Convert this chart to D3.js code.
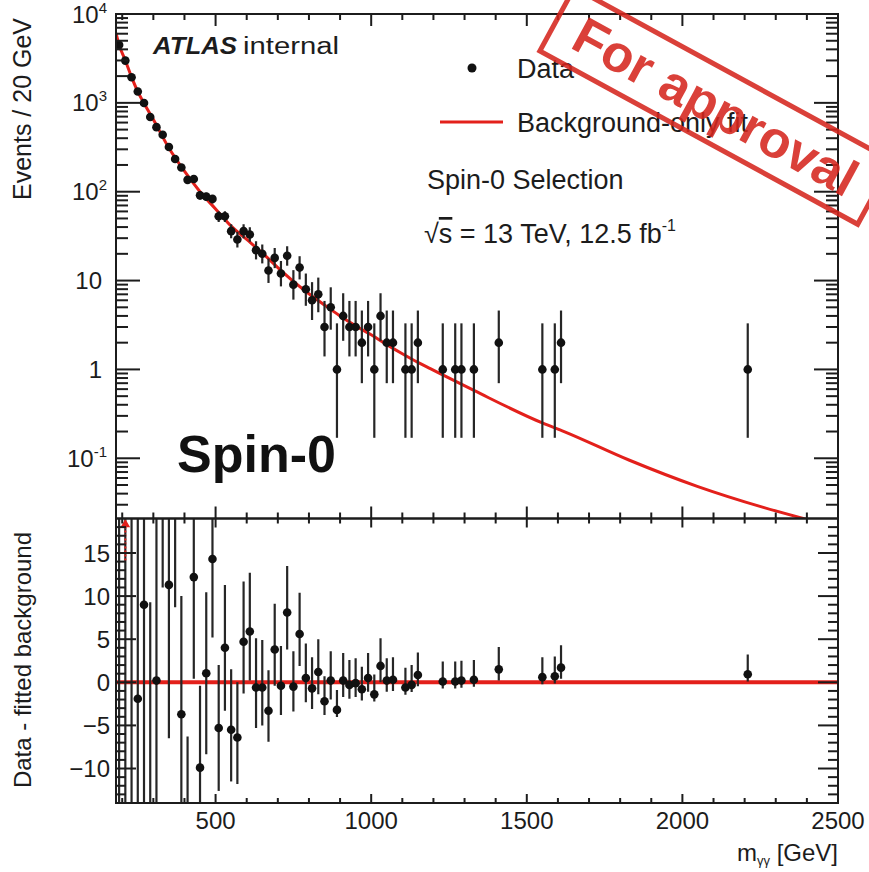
<!DOCTYPE html>
<html>
<head>
<meta charset="utf-8">
<script src="https://cdnjs.cloudflare.com/ajax/libs/d3/7.8.5/d3.min.js"></script>
<style>
  body { margin: 0; background: #fff; }
  svg { display: block; font-family: "Liberation Sans", Arial, Helvetica, sans-serif; }
</style>
</head>
<body>
<div id="chart"></div>
<script>
// bin centres (GeV) of the non-empty 20 GeV bins
var massBins = [190, 210, 230, 250, 270, 290, 310, 330, 350, 370, 390, 410, 430, 450, 470, 490,
  510, 530, 550, 570, 590, 610, 630, 650, 670, 690, 710, 730, 750, 770, 790, 810, 830, 850, 870,
  890, 910, 930, 950, 970, 990, 1010, 1030, 1050, 1070, 1110, 1130, 1150, 1230, 1270, 1290, 1330,
  1410, 1550, 1590, 1610, 2210];
var eventCounts = [4490, 2990, 1945, 1340, 995, 692, 533, 437, 318, 233, 187, 136, 139, 91, 88, 83,
  53, 53, 36, 29, 36, 33, 22, 20, 13, 18, 12, 19, 9, 14, 8, 6, 7, 3, 5,
  1, 4, 3, 3, 2, 3, 1, 4, 2, 2, 1, 1, 2, 1, 1, 1, 1,
  2, 1, 1, 2, 1];
var errLow = [67, 55, 44, 37, 31.5, 26.3, 23, 21, 17.8, 15.3, 13.7, 11.7, 11.8, 9.5, 9.4, 9.1,
  7.3, 7.3, 6.0, 5.4, 6.0, 5.7, 4.7, 4.4, 3.6, 4.2, 3.4, 4.3, 2.9, 3.7, 2.8, 2.4, 2.6, 1.6, 2.2,
  0.83, 1.9, 1.6, 1.6, 1.3, 1.6, 0.83, 1.9, 1.3, 1.3, 0.83, 0.83, 1.3, 0.83, 0.83, 0.83, 0.83,
  1.3, 0.83, 0.83, 1.3, 0.83];
var errHigh = [67, 55, 44, 37, 31.5, 26.3, 23, 21, 17.8, 15.3, 13.7, 11.7, 11.8, 9.5, 9.4, 9.1,
  7.3, 7.3, 7.0, 6.4, 7.0, 6.8, 5.7, 5.5, 4.7, 5.3, 4.6, 5.4, 4.1, 4.8, 4.0, 3.6, 3.8, 2.9, 3.4,
  2.3, 3.2, 2.9, 2.9, 2.6, 2.9, 2.3, 3.2, 2.6, 2.6, 2.3, 2.3, 2.6, 2.3, 2.3, 2.3, 2.3,
  2.6, 2.3, 2.3, 2.6, 2.3];
// data - fitted background, same bins
var residuals = [30, -22, 25, -1.9, 9.0, -17, 0.2, 32, 11.3, 24, -3.7, -18, 12.2, -9.9, 1.05, 14.3,
  -5.3, 4.0, -5.5, -6.4, 4.7, 5.9, -0.6, -0.6, -3.3, 3.8, -0.4, 8.1, -0.5, 5.6, 0.5, -0.7, 1.2, -2.2, 0.2,
  -3.2, 0.2, -0.3, -0.1, -0.8, 0.5, -1.4, 1.9, 0.2, 0.3, -0.6, -0.3, 0.85, 0.1, 0.1, 0.2, 0.3,
  1.5, 0.6, 0.7, 1.7, 0.93];

// background-only fit
var fitMass = [180, 190, 210, 230, 250, 270, 300, 350, 400, 450, 500, 550, 600, 650, 700, 750, 800,
  850, 900, 950, 1000, 1050, 1100, 1150, 1190, 1330, 1550, 1620, 1830, 2050, 2260, 2400];
var fitValues = [6100, 4500, 3000, 1950, 1340, 990, 650, 310, 170, 100, 64, 41, 29, 20.5, 14, 9.8, 7.1,
  5.3, 4.0, 3.1, 2.45, 1.9, 1.5, 1.2, 1.02, 0.58, 0.25, 0.2, 0.095, 0.048, 0.028, 0.0205];

var xTicks = [500, 1000, 1500, 2000, 2500];
var xTickLabels = ["500", "1000", "1500", "2000", "2500"];
var yTopTicks = [0.1, 1, 10, 100, 1000, 10000];
var yTopTickLabels = [["10", "-1"], ["1", ""], ["10", ""], ["10", "2"], ["10", "3"], ["10", "4"]];
var yBotTicks = [-10, -5, 0, 5, 10, 15];
var yBotTickLabels = ["\u221210", "\u22125", "0", "5", "10", "15"];

var svgWidth = 869;
var svgHeight = 872;
var frame = { left: 116, right: 838, top: 14, mid: 518.5, bottom: 803 };
var red = "#e3201b";
var ink = "#1c1c1c";

var svg = d3.select("#chart")
  .append("svg")
  .attr("width", svgWidth)
  .attr("height", svgHeight);

// scales
var xScale = d3.scaleLinear().domain([180, 2500]).range([frame.left, frame.right]);
var yTop = d3.scaleLog().domain([0.021, 10000]).range([frame.mid, frame.top]);
var yBot = d3.scaleLinear().domain([-14, 19]).range([frame.bottom, frame.mid]);

var defs = svg.append("defs");
defs.append("clipPath").attr("id", "clipTop").append("rect")
  .attr("x", frame.left).attr("y", frame.top)
  .attr("width", frame.right - frame.left).attr("height", frame.mid - frame.top);
defs.append("clipPath").attr("id", "clipBot").append("rect")
  .attr("x", frame.left).attr("y", frame.mid)
  .attr("width", frame.right - frame.left).attr("height", frame.bottom - frame.mid);

var points = massBins.map(function(m, i) {
  return { m: m, n: eventCounts[i], lo: errLow[i], hi: errHigh[i], r: residuals[i] };
});

// ---- top panel ----
var topG = svg.append("g").attr("clip-path", "url(#clipTop)");

var fitLine = d3.line()
  .x(function(d, i) { return xScale(d); })
  .y(function(d, i) { return yTop(fitValues[i]); })
  .curve(d3.curveMonotoneX);

topG.append("path")
  .attr("d", fitLine(fitMass))
  .attr("fill", "none")
  .attr("stroke", red)
  .attr("stroke-width", 3);

topG.selectAll(".errTop")
  .data(points).enter().append("line")
  .attr("x1", d => xScale(d.m)).attr("x2", d => xScale(d.m))
  .attr("y1", d => yTop(d.n + d.hi))
  .attr("y2", d => yTop(Math.max(d.n - d.lo, 0.001)))
  .attr("stroke", "#262626").attr("stroke-width", 2.2);

topG.selectAll(".ptTop")
  .data(points).enter().append("circle")
  .attr("cx", d => xScale(d.m))
  .attr("cy", d => yTop(d.n))
  .attr("r", 4.3)
  .attr("fill", "#111");

// ---- bottom panel ----
var botG = svg.append("g").attr("clip-path", "url(#clipBot)");

botG.append("line")
  .attr("x1", frame.left).attr("x2", frame.right)
  .attr("y1", yBot(0)).attr("y2", yBot(0))
  .attr("stroke", red).attr("stroke-width", 4);

botG.selectAll(".errBot")
  .data(points).enter().append("line")
  .attr("x1", d => xScale(d.m)).attr("x2", d => xScale(d.m))
  .attr("y1", d => yBot(d.r + d.hi))
  .attr("y2", d => yBot(d.r - d.lo))
  .attr("stroke", "#262626").attr("stroke-width", 2.2);

botG.selectAll(".ptBot")
  .data(points).enter().append("circle")
  .attr("cx", d => xScale(d.m))
  .attr("cy", d => yBot(d.r))
  .attr("r", 4.3)
  .attr("fill", "#111");

// small red off-scale marker in the top left corner of the ratio panel
botG.append("line")
  .attr("x1", xScale(210)).attr("x2", xScale(210))
  .attr("y1", frame.mid + 4).attr("y2", frame.mid + 44)
  .attr("stroke", red).attr("stroke-width", 2).attr("stroke-dasharray", "2,2");
botG.append("path")
  .attr("d", d3.symbol().type(d3.symbolTriangle).size(40)())
  .attr("transform", `translate(${xScale(210)}, ${frame.mid + 6})`)
  .attr("fill", red);

// ---- frames and ticks ----
function tickSet(g, values, orient, pos, len) {
  g.selectAll(null).data(values).enter().append("line")
    .attr("x1", d => orient === "x" ? xScale(d) : pos.x)
    .attr("x2", d => orient === "x" ? xScale(d) : pos.x + len)
    .attr("y1", d => orient === "x" ? pos.y : pos.scale(d))
    .attr("y2", d => orient === "x" ? pos.y + len : pos.scale(d))
    .attr("stroke", ink).attr("stroke-width", 2);
}

var axisG = svg.append("g");
var xMinor = d3.range(200, 2501, 100).filter(v => xTicks.indexOf(v) < 0);

// x ticks: top panel (top edge, bottom edge), bottom panel (top edge, bottom edge)
tickSet(axisG, xTicks, "x", { y: frame.top }, 12);
tickSet(axisG, xMinor, "x", { y: frame.top }, 6);
tickSet(axisG, xTicks, "x", { y: frame.mid }, -12);
tickSet(axisG, xMinor, "x", { y: frame.mid }, -6);
tickSet(axisG, xTicks, "x", { y: frame.mid }, 9);
tickSet(axisG, xMinor, "x", { y: frame.mid }, 5);
tickSet(axisG, xTicks, "x", { y: frame.bottom }, -9);
tickSet(axisG, xMinor, "x", { y: frame.bottom }, -5);

// log y ticks
var yTopMinor = [];
[-2, -1, 0, 1, 2, 3].forEach(function(p) {
  for (var k = 2; k <= 9; k++) {
    var v = k * Math.pow(10, p);
    if (v > 0.021 && v < 10000) yTopMinor.push(v);
  }
});
tickSet(axisG, yTopTicks, "y", { x: frame.left, scale: yTop }, 24);
tickSet(axisG, yTopMinor, "y", { x: frame.left, scale: yTop }, 12);
tickSet(axisG, yTopTicks, "y", { x: frame.right, scale: yTop }, -24);
tickSet(axisG, yTopMinor, "y", { x: frame.right, scale: yTop }, -12);

var yBotMinor = d3.range(-13, 19, 1).filter(v => yBotTicks.indexOf(v) < 0);
tickSet(axisG, yBotTicks, "y", { x: frame.left, scale: yBot }, 20);
tickSet(axisG, yBotMinor, "y", { x: frame.left, scale: yBot }, 10);
tickSet(axisG, yBotTicks, "y", { x: frame.right, scale: yBot }, -20);
tickSet(axisG, yBotMinor, "y", { x: frame.right, scale: yBot }, -10);

axisG.append("rect")
  .attr("x", frame.left).attr("y", frame.top)
  .attr("width", frame.right - frame.left).attr("height", frame.mid - frame.top)
  .attr("fill", "none").attr("stroke", ink).attr("stroke-width", 2);
axisG.append("rect")
  .attr("x", frame.left).attr("y", frame.mid)
  .attr("width", frame.right - frame.left).attr("height", frame.bottom - frame.mid)
  .attr("fill", "none").attr("stroke", ink).attr("stroke-width", 2);

// ---- tick labels ----
var topLabels = svg.selectAll(".ytl").data(yTopTicks).enter().append("text")
  .attr("x", (d, i) => yTopTickLabels[i][1] ? 107 : 102)
  .attr("y", d => yTop(d))
  .attr("dy", "0.36em")
  .attr("text-anchor", "end")
  .attr("font-size", "24px")
  .attr("fill", ink);
topLabels.append("tspan").text((d, i) => yTopTickLabels[i][0]);
topLabels.append("tspan")
  .attr("font-size", "15px")
  .attr("dy", "-10")
  .text((d, i) => yTopTickLabels[i][1]);

svg.selectAll(".ybl").data(yBotTicks).enter().append("text")
  .attr("x", 110)
  .attr("y", d => yBot(d))
  .attr("dy", "0.36em")
  .attr("text-anchor", "end")
  .attr("font-size", "24px")
  .attr("fill", ink)
  .text((d, i) => yBotTickLabels[i]);

svg.selectAll(".xtl").data(xTicks).enter().append("text")
  .attr("x", d => xScale(d))
  .attr("y", 829)
  .attr("text-anchor", "middle")
  .attr("font-size", "24px")
  .attr("fill", ink)
  .text((d, i) => xTickLabels[i]);

// ---- axis titles ----
svg.append("text")
  .attr("transform", "translate(31, 109) rotate(-90)")
  .attr("text-anchor", "middle")
  .attr("font-size", "25px")
  .attr("fill", ink)
  .text("Events / 20 GeV");

svg.append("text")
  .attr("transform", "translate(31, 660) rotate(-90)")
  .attr("text-anchor", "middle")
  .attr("font-size", "24px")
  .attr("fill", ink)
  .text("Data - fitted background");

var xTitle = svg.append("text")
  .attr("x", frame.right).attr("y", 861)
  .attr("text-anchor", "end")
  .attr("font-size", "24px")
  .attr("fill", ink);
xTitle.append("tspan").text("m");
xTitle.append("tspan").attr("font-size", "13px").attr("dy", 4).text("\u03b3\u03b3");
xTitle.append("tspan").attr("dy", -4).text(" [GeV]");

// ---- labels and legend ----
svg.append("text")
  .attr("x", 153).attr("y", 54)
  .attr("font-size", "23px").attr("font-weight", "bold").attr("font-style", "italic")
  .attr("textLength", 84).attr("lengthAdjust", "spacingAndGlyphs")
  .attr("fill", ink)
  .text("ATLAS");
svg.append("text")
  .attr("x", 243).attr("y", 54)
  .attr("font-size", "23px")
  .attr("textLength", 96).attr("lengthAdjust", "spacingAndGlyphs")
  .attr("fill", ink)
  .text("internal");

svg.append("circle").attr("cx", 472).attr("cy", 68).attr("r", 4.5).attr("fill", "#111");
svg.append("text")
  .attr("x", 517).attr("y", 78)
  .attr("font-size", "27px").attr("fill", ink)
  .text("Data");
svg.append("line")
  .attr("x1", 440).attr("x2", 503).attr("y1", 122).attr("y2", 122)
  .attr("stroke", red).attr("stroke-width", 3);
svg.append("text")
  .attr("x", 517).attr("y", 132)
  .attr("font-size", "27px").attr("fill", ink)
  .text("Background-only fit");

svg.append("text")
  .attr("x", 427).attr("y", 189)
  .attr("font-size", "27px").attr("fill", ink)
  .text("Spin-0 Selection");

var energy = svg.append("text")
  .attr("x", 424).attr("y", 243)
  .attr("font-size", "27px").attr("fill", ink);
energy.append("tspan").text("\u221a");
energy.append("tspan").attr("text-decoration", "overline").text("s");
energy.append("tspan").text(" = 13 TeV, 12.5 fb");
energy.append("tspan").attr("font-size", "16px").attr("dy", -12).text("-1");

svg.append("text")
  .attr("x", 177).attr("y", 472)
  .attr("font-size", "52px").attr("font-weight", "bold")
  .attr("fill", "#111")
  .text("Spin-0");

// ---- approval stamp ----
var stamp = svg.append("g")
  .attr("transform", "translate(716, 106) rotate(28.6)")
  .attr("opacity", 0.88);
stamp.append("rect")
  .attr("x", -181).attr("y", -36)
  .attr("width", 362).attr("height", 72)
  .attr("fill", "none")
  .attr("stroke", "#d6261e").attr("stroke-width", 5);
stamp.append("text")
  .attr("x", 0).attr("y", 0).attr("dy", "0.36em")
  .attr("text-anchor", "middle")
  .attr("font-size", "52px").attr("font-weight", "bold")
  .attr("fill", "#d6261e")
  .text("For approval");
</script>
</body>
</html>
